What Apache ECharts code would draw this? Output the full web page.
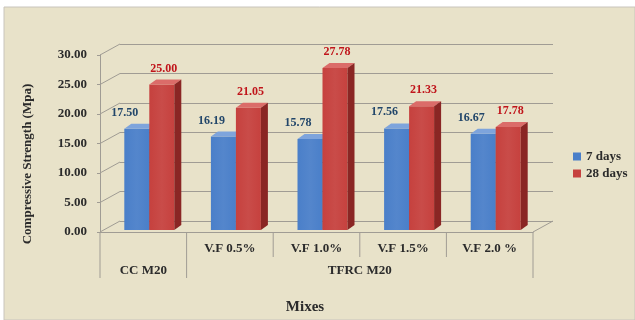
<!DOCTYPE html>
<html>
<head>
<meta charset="utf-8">
<script src="https://cdn.jsdelivr.net/npm/echarts@6/dist/echarts.min.js"></script>
<style>
  html, body { margin: 0; padding: 0; background: #fff; }
  #chart { width: 635px; height: 320px; }
</style>
</head>
<body>
<div id="chart"></div>
<script>
  // data
  var mixes = ['V.F 0.0%', 'V.F 0.5%', 'V.F 1.0%', 'V.F 1.5%', 'V.F 2.0 %'];
  var days7 = [17.50, 16.19, 15.78, 17.56, 16.67];
  var days28 = [25.00, 21.05, 27.78, 21.33, 17.78];
  var groups = [['CC M20', 0, 0], ['TFRC M20', 1, 4]];
  var yTicks = [0, 5, 10, 15, 20, 25, 30];

  var font = 'Liberation Serif';
  var gridColor = '#a09c94';
  // 3d look: back wall offset and bar depth
  var wallDx = 20, wallDy = -11;
  var depthX = 7, depthY = -5;

  var colors7 = {front: '#4a7fc9', top: '#7ea4dc', side: '#2d5590', label: '#22466a'};
  var colors28 = {front: '#c6413e', top: '#db6c69', side: '#8a2624', label: '#c0141a'};

  function barRenderer(pal, shift, labelShift) {
    return function (params, api) {
      var ci = api.value(0), v = api.value(1);
      var band = api.size([1, 0])[0];
      var k = band / 86.6;
      var topPt = api.coord([ci, v]);
      var basePt = api.coord([ci, 0]);
      var x0 = topPt[0] + shift * k;
      var w = 25 * k;
      var yTop = topPt[1], yBase = basePt[1] - 2;
      return {
        type: 'group',
        children: [
          {type: 'rect', shape: {x: x0, y: yTop, width: w, height: yBase - yTop},
            style: {fill: new echarts.graphic.LinearGradient(0, 0, 1, 0, [
              {offset: 0, color: pal.front}, {offset: 0.5, color: echarts.color.lift(pal.front, 0.06)}, {offset: 1, color: pal.front}])}},
          {type: 'polygon', shape: {points: [[x0, yTop], [x0 + depthX, yTop + depthY], [x0 + w + depthX, yTop + depthY], [x0 + w, yTop]]},
            style: {fill: pal.top}},
          {type: 'polygon', shape: {points: [[x0 + w, yTop], [x0 + w + depthX, yTop + depthY], [x0 + w + depthX, yBase + depthY], [x0 + w, yBase]]},
            style: {fill: pal.side}},
          {type: 'text', x: x0 + w / 2 + labelShift, y: yTop - 16,
            style: {text: v.toFixed(2), fill: pal.label, font: 'bold 12px "' + font + '"', align: 'center', verticalAlign: 'middle'}}
        ]
      };
    };
  }

  var chart = echarts.init(document.getElementById('chart'));
  chart.setOption({
    backgroundColor: '#fff',
    animation: false,
    graphic: [
      {type: 'rect', z: -10, shape: {x: 4, y: 7, width: 631, height: 313},
        style: {fill: '#e8e2c9', stroke: '#c8c4bc', lineWidth: 1}},
      {type: 'text', x: 28, y: 164, rotation: Math.PI / 2,
        style: {text: 'Compressive Strength (Mpa)', fill: '#2b2b2b', font: 'bold 13px "' + font + '"', align: 'center', verticalAlign: 'middle'}},
      {type: 'text', x: 305, y: 307,
        style: {text: 'Mixes', fill: '#2b2b2b', font: 'bold 15px "' + font + '"', align: 'center', verticalAlign: 'middle'}}
    ],
    legend: {
      orient: 'vertical', left: 573, top: 150, icon: 'rect',
      itemWidth: 8, itemHeight: 8, itemGap: 4, padding: 0,
      textStyle: {fontFamily: font, fontWeight: 'bold', fontSize: 13, color: '#2b2b2b'},
      data: ['7 days', '28 days']
    },
    grid: [
      {left: 100, right: 102, top: 55, bottom: 88},
      {left: 100 + wallDx, right: 102 - wallDx, top: 55 + wallDy, bottom: 88 - wallDy}
    ],
    xAxis: [
      {type: 'category', gridIndex: 0, data: mixes,
        axisLine: {show: true, lineStyle: {color: gridColor}},
        axisTick: {show: false},
        axisLabel: {margin: 10, color: '#2b2b2b', fontFamily: font, fontWeight: 'bold', fontSize: 13,
          formatter: function (val, i) { return i === 0 ? '' : val; }}},
      {type: 'category', gridIndex: 1, data: mixes, show: false}
    ],
    yAxis: [
      {type: 'value', gridIndex: 0, min: 0, max: 30, interval: 5,
        axisLine: {show: true, lineStyle: {color: gridColor}},
        axisTick: {show: true, length: 3, lineStyle: {color: gridColor}},
        splitLine: {show: false},
        axisLabel: {margin: 13, color: '#2b2b2b', fontFamily: font, fontWeight: 'bold', fontSize: 13,
          formatter: function (v) { return v.toFixed(2); }}},
      {type: 'value', gridIndex: 1, min: 0, max: 30, interval: 5,
        axisLine: {show: false}, axisTick: {show: false}, axisLabel: {show: false},
        splitLine: {show: true, lineStyle: {color: gridColor, width: 1}}}
    ],
    series: [
      {
        // diagonal wall edges at each tick + floor edge
        type: 'custom', xAxisIndex: 0, yAxisIndex: 0, silent: true,
        data: yTicks.map(function (t) { return [0, t]; }),
        renderItem: function (params, api) {
          var band = api.size([1, 0])[0];
          var p = api.coord([0, api.value(1)]);
          var xl = p[0] - band / 2;
          var kids = [{type: 'line', shape: {x1: xl, y1: p[1], x2: xl + wallDx, y2: p[1] + wallDy},
            style: {stroke: gridColor, lineWidth: 1}}];
          if (api.value(1) === 0) {
            var e = api.coord([mixes.length - 1, 0]);
            var xr = e[0] + band / 2;
            kids.push({type: 'line', shape: {x1: xr, y1: e[1], x2: xr + wallDx, y2: e[1] + wallDy},
              style: {stroke: gridColor, lineWidth: 1}});
          }
          return {type: 'group', children: kids};
        }
      },
      {
        // two-level category table under the floor
        type: 'custom', xAxisIndex: 0, yAxisIndex: 0, silent: true,
        data: groups.map(function (g) { return [g[1], g[2]]; }),
        renderItem: function (params, api) {
          var g = groups[params.dataIndex];
          var band = api.size([1, 0])[0];
          var a = api.coord([api.value(0), 0]);
          var b = api.coord([api.value(1), 0]);
          var y0 = a[1];
          var xl = a[0] - band / 2, xr = b[0] + band / 2;
          var ln = {stroke: gridColor, lineWidth: 1};
          var kids = [
            {type: 'line', shape: {x1: xl, y1: y0, x2: xl, y2: y0 + 46}, style: ln},
            {type: 'text', x: (xl + xr) / 2, y: y0 + 39,
              style: {text: g[0], fill: '#2b2b2b', font: 'bold 13px "' + font + '"', align: 'center', verticalAlign: 'middle'}}
          ];
          for (var i = api.value(0) + 1; i <= api.value(1); i++) {
            var xi = api.coord([i, 0])[0] - band / 2;
            kids.push({type: 'line', shape: {x1: xi, y1: y0, x2: xi, y2: y0 + 25}, style: ln});
          }
          if (params.dataIndex === groups.length - 1) {
            kids.push({type: 'line', shape: {x1: xr, y1: y0, x2: xr, y2: y0 + 46}, style: ln});
          }
          return {type: 'group', children: kids};
        }
      },
      {
        name: '7 days', type: 'custom', xAxisIndex: 0, yAxisIndex: 0,
        itemStyle: {color: colors7.front},
        data: days7.map(function (v, i) { return [i, v]; }),
        renderItem: barRenderer(colors7, -19, -12)
      },
      {
        name: '28 days', type: 'custom', xAxisIndex: 0, yAxisIndex: 0,
        itemStyle: {color: colors28.front},
        data: days28.map(function (v, i) { return [i, v]; }),
        renderItem: barRenderer(colors28, 6, 2)
      }
    ]
  });
</script>
</body>
</html>
